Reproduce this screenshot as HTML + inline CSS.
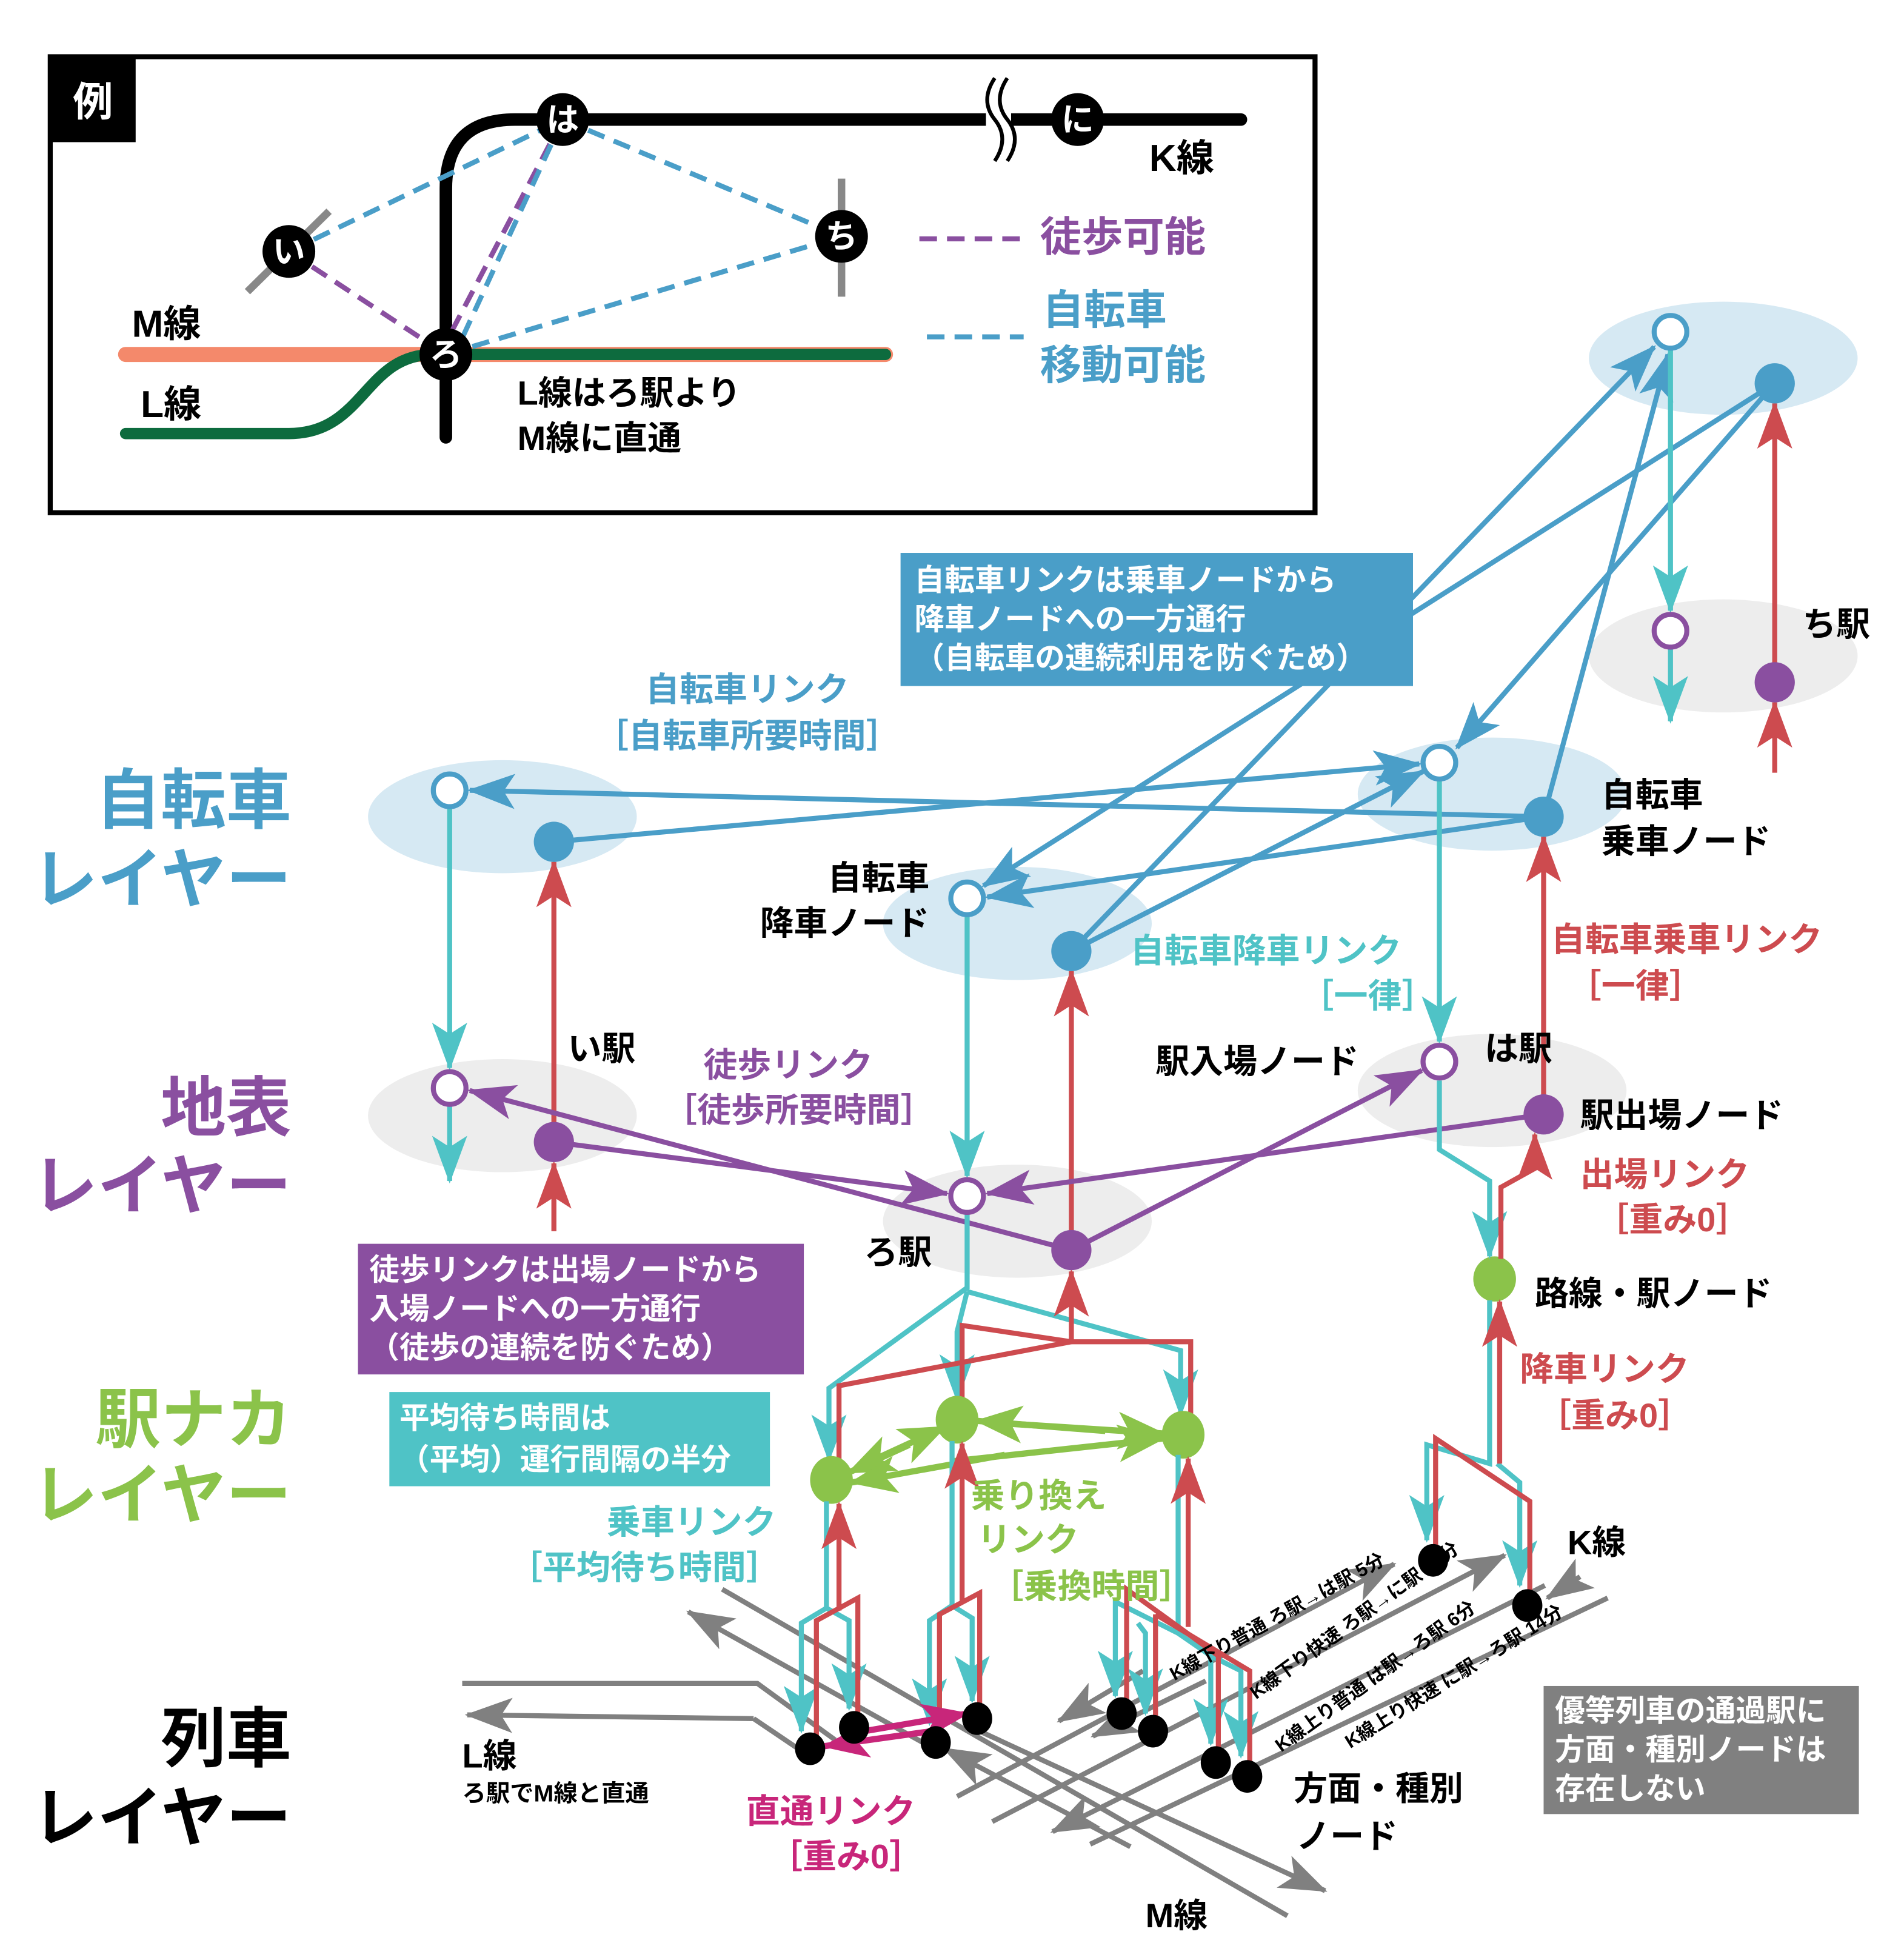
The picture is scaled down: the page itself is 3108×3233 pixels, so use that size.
<!DOCTYPE html>
<html><head><meta charset="utf-8">
<style>
html,body{margin:0;padding:0;background:#fff}
svg{display:block}
text{font-family:"Liberation Sans","Noto Sans CJK JP",sans-serif;font-weight:bold}
</style></head><body>
<svg width="3108" height="3233" viewBox="0 0 1500 1560" xmlns="http://www.w3.org/2000/svg">
<defs>
<marker id="ab" markerUnits="userSpaceOnUse" markerWidth="40" markerHeight="28" refX="36" refY="14" orient="auto"><path d="M0,0 L38,14 L0,28 L9,14z" fill="#4a9ec8"/></marker>
<marker id="at" markerUnits="userSpaceOnUse" markerWidth="40" markerHeight="28" refX="36" refY="14" orient="auto"><path d="M0,0 L38,14 L0,28 L9,14z" fill="#4fc3c6"/></marker>
<marker id="ar" markerUnits="userSpaceOnUse" markerWidth="40" markerHeight="28" refX="36" refY="14" orient="auto"><path d="M0,0 L38,14 L0,28 L9,14z" fill="#cd4b4f"/></marker>
<marker id="ap" markerUnits="userSpaceOnUse" markerWidth="40" markerHeight="28" refX="36" refY="14" orient="auto"><path d="M0,0 L38,14 L0,28 L9,14z" fill="#8a4fa0"/></marker>
<marker id="ag" markerUnits="userSpaceOnUse" markerWidth="40" markerHeight="30" refX="36" refY="15" orient="auto"><path d="M0,0 L38,15 L0,30 L9,15z" fill="#8bc34a"/></marker>
<marker id="agr" markerUnits="userSpaceOnUse" markerWidth="40" markerHeight="28" refX="36" refY="14" orient="auto"><path d="M0,0 L38,14 L0,28 L9,14z" fill="#808080"/></marker>
<marker id="am" markerUnits="userSpaceOnUse" markerWidth="40" markerHeight="28" refX="36" refY="14" orient="auto"><path d="M0,0 L38,14 L0,28 L9,14z" fill="#c8267a"/></marker>
</defs>

<rect x="40" y="45" width="1007" height="363" fill="#fff" stroke="#000" stroke-width="4"/>
<rect x="40" y="45" width="68" height="68" fill="#000"/>
<text x="74" y="92" font-size="32" fill="#fff" text-anchor="middle">例</text>
<line x1="197" y1="232" x2="262" y2="168" stroke="#888" stroke-width="6"/>
<line x1="670" y1="142" x2="670" y2="236" stroke="#888" stroke-width="6"/>
<line x1="100" y1="282" x2="705" y2="282" stroke="#f4896b" stroke-width="12" stroke-linecap="round"/>
<path d="M100,345 L230,345 C290,345 290,282 345,282 L705,282" fill="none" stroke="#0d6b3e" stroke-width="9" stroke-linecap="round"/>
<path d="M355,348 L355,150 Q355,95 410,95 L988,95" fill="none" stroke="#000" stroke-width="10" stroke-linecap="round"/>
<rect x="785" y="70" width="20" height="60" fill="#fff"/>
<path d="M792,62 q-12,18 0,33 q12,15 0,33 M802,62 q-12,18 0,33 q12,15 0,33" fill="none" stroke="#000" stroke-width="3"/>
<g stroke-width="4" stroke-dasharray="14,8" fill="none">
<line x1="230" y1="200" x2="355" y2="282" stroke="#8a4fa0"/>
<line x1="448" y1="95" x2="350" y2="282" stroke="#8a4fa0"/>
<line x1="230" y1="200" x2="448" y2="95" stroke="#4a9ec8"/>
<line x1="448" y1="95" x2="670" y2="188" stroke="#4a9ec8"/>
<line x1="355" y1="282" x2="670" y2="188" stroke="#4a9ec8"/>
<line x1="448" y1="95" x2="362" y2="282" stroke="#4a9ec8"/>
<line x1="732" y1="190" x2="812" y2="190" stroke="#8a4fa0"/>
<line x1="738" y1="268" x2="815" y2="268" stroke="#4a9ec8"/>
</g>
<g fill="#000"><circle cx="448" cy="95" r="21"/><circle cx="858" cy="95" r="21"/><circle cx="230" cy="200" r="21"/><circle cx="355" cy="282" r="21"/><circle cx="670" cy="188" r="21"/></g>
<g fill="#fff" font-size="26" text-anchor="middle"><text x="448" y="104">は</text><text x="858" y="104">に</text><text x="230" y="209">い</text><text x="355" y="291">ろ</text><text x="670" y="197">ち</text></g>
<g font-size="30" fill="#000"><text x="915" y="136">K線</text><text x="105" y="268">M線</text><text x="112" y="332">L線</text>
<text x="412" y="322" font-size="27">L線はろ駅より</text><text x="412" y="358" font-size="27">M線に直通</text></g>
<text x="828" y="200" font-size="33" fill="#8a4fa0">徒歩可能</text>
<text x="830" y="258" font-size="33" fill="#4a9ec8">自転車</text>
<text x="828" y="302" font-size="33" fill="#4a9ec8">移動可能</text>

<g font-size="52" text-anchor="end">
<text x="232" y="655" fill="#4a9ec8">自転車</text><text x="232" y="718" fill="#4a9ec8">レイヤー</text>
<text x="232" y="900" fill="#8a4fa0">地表</text><text x="232" y="962" fill="#8a4fa0">レイヤー</text>
<text x="232" y="1148" fill="#8bc34a">駅ナカ</text><text x="232" y="1208" fill="#8bc34a">レイヤー</text>
<text x="232" y="1402" fill="#000">列車</text><text x="232" y="1465" fill="#000">レイヤー</text>
</g>

<g fill="#d6e9f3"><ellipse cx="400" cy="650" rx="107" ry="45"/><ellipse cx="810" cy="735" rx="107" ry="45"/><ellipse cx="1188" cy="632" rx="107" ry="45"/><ellipse cx="1372" cy="285" rx="107" ry="45"/></g>
<g fill="#ededed"><ellipse cx="400" cy="888" rx="107" ry="45"/><ellipse cx="810" cy="972" rx="107" ry="45"/><ellipse cx="1188" cy="868" rx="107" ry="45"/><ellipse cx="1372" cy="522" rx="107" ry="45"/></g>

<g stroke="#808080" stroke-width="4" fill="none">
<path d="M368,1340 L603,1340 L665,1385"/>
<path d="M600,1368 L640,1395" />
<path d="M600,1368 L372,1365" marker-end="url(#agr)"/>
<line x1="575" y1="1265" x2="1025" y2="1525"/>
<line x1="740" y1="1390" x2="548" y2="1283" marker-end="url(#agr)"/>
<line x1="780" y1="1378" x2="1055" y2="1505" marker-end="url(#agr)"/>
<line x1="900" y1="1470" x2="752" y2="1392" marker-end="url(#agr)"/>
<line x1="762" y1="1430" x2="1110" y2="1245" marker-end="url(#agr)"/>
<line x1="790" y1="1450" x2="1198" y2="1238" marker-end="url(#agr)"/>
<line x1="1280" y1="1272" x2="868" y2="1468" />
<line x1="1230" y1="1262" x2="838" y2="1458" marker-end="url(#agr)"/>
<line x1="1258" y1="1255" x2="1232" y2="1272" marker-end="url(#agr)"/>
<line x1="910" y1="1330" x2="843" y2="1370" marker-end="url(#agr)"/>
<line x1="960" y1="1338" x2="870" y2="1382" marker-end="url(#agr)"/>
</g>

<g stroke="#4a9ec8" stroke-width="4" fill="none">
<line x1="441" y1="670" x2="1130" y2="608" marker-end="url(#ab)"/>
<line x1="1229" y1="650" x2="374" y2="629" marker-end="url(#ab)"/>
<line x1="853" y1="757" x2="1133" y2="614" marker-end="url(#ab)"/>
<line x1="1229" y1="650" x2="786" y2="714" marker-end="url(#ab)"/>
<line x1="853" y1="757" x2="1317" y2="276" marker-end="url(#ab)"/>
<line x1="1413" y1="305" x2="783" y2="705" marker-end="url(#ab)"/>
<line x1="1413" y1="305" x2="1160" y2="595" marker-end="url(#ab)"/>
<line x1="1229" y1="650" x2="1328" y2="282" marker-end="url(#ab)"/>
</g>
<g stroke="#4fc3c6" stroke-width="4" fill="none">
<line x1="358" y1="643" x2="358" y2="850" marker-end="url(#at)"/>
<line x1="358" y1="880" x2="358" y2="940" marker-end="url(#at)"/>
<line x1="1330" y1="278" x2="1330" y2="486" marker-end="url(#at)"/>
<line x1="1330" y1="516" x2="1330" y2="574" marker-end="url(#at)"/>
<line x1="770" y1="729" x2="770" y2="936" marker-end="url(#at)"/>
<line x1="1146" y1="621" x2="1146" y2="829" marker-end="url(#at)"/>
</g>
<g stroke="#cd4b4f" stroke-width="4" fill="none">
<line x1="441" y1="980" x2="441" y2="926" marker-end="url(#ar)"/>
<line x1="441" y1="895" x2="441" y2="686" marker-end="url(#ar)"/>
<line x1="853" y1="980" x2="853" y2="773" marker-end="url(#ar)"/>
<line x1="1229" y1="873" x2="1229" y2="666" marker-end="url(#ar)"/>
<line x1="1413" y1="528" x2="1413" y2="321" marker-end="url(#ar)"/>
<line x1="1413" y1="615" x2="1413" y2="559" marker-end="url(#ar)"/>
</g>
<g stroke="#8a4fa0" stroke-width="4" fill="none">
<line x1="441" y1="909" x2="754" y2="950" marker-end="url(#ap)"/>
<line x1="853" y1="995" x2="374" y2="868" marker-end="url(#ap)"/>
<line x1="853" y1="995" x2="1132" y2="852" marker-end="url(#ap)"/>
<line x1="1229" y1="887" x2="786" y2="950" marker-end="url(#ap)"/>
</g>

<g stroke="#4fc3c6" stroke-width="4" fill="none">
<path d="M770,966 L770,1025 L660,1105 L660,1162" marker-end="url(#at)"/>
<path d="M770,1028 L762,1060 L762,1114" marker-end="url(#at)"/>
<path d="M770,1028 L940,1075 L940,1126" marker-end="url(#at)"/>
</g>
<g stroke="#cd4b4f" stroke-width="4" fill="none">
<path d="M668,1168 L668,1103 L853,1068 L853,1012" marker-end="url(#ar)"/>
<path d="M766,1118 L766,1055 L853,1068 L948,1068 L948,1128"/>
</g>
<g stroke="#8bc34a" stroke-width="5" fill="none">
<line x1="700" y1="1160" x2="752" y2="1136" marker-end="url(#ag)"/>
<line x1="724" y1="1150" x2="676" y2="1172" marker-end="url(#ag)"/>
<line x1="800" y1="1133" x2="926" y2="1141" marker-end="url(#ag)"/>
<line x1="880" y1="1139" x2="778" y2="1131" marker-end="url(#ag)"/>
<line x1="760" y1="1163" x2="926" y2="1145" marker-end="url(#ag)"/>
<line x1="800" y1="1158" x2="678" y2="1180" marker-end="url(#ag)"/>
</g>
<g fill="#8bc34a"><ellipse cx="662" cy="1178" rx="17" ry="19"/><ellipse cx="762" cy="1130" rx="17" ry="19"/><ellipse cx="942" cy="1142" rx="17" ry="19"/><ellipse cx="1190" cy="1018" rx="17" ry="18"/></g>

<g stroke="#4fc3c6" stroke-width="4" fill="none">
<path d="M1146,860 L1146,915 L1186,940 L1186,1000" marker-end="url(#at)"/>
<path d="M1186,1035 L1186,1165 L1136,1150 L1136,1226" marker-end="url(#at)"/>
<path d="M1192,1165 L1210,1180 L1210,1262" marker-end="url(#at)"/>
</g>
<g stroke="#cd4b4f" stroke-width="4" fill="none">
<path d="M1195,1002 L1195,945 L1222,930 L1222,903" marker-end="url(#ar)"/>
<path d="M1143,1235 L1143,1145 L1218,1195 L1218,1270"/>
<path d="M1194,1165 L1194,1036" marker-end="url(#ar)"/>
</g>

<g stroke="#4fc3c6" stroke-width="4" fill="none">
<path d="M658,1195 L658,1280 L638,1292 L638,1378" marker-end="url(#at)"/>
<path d="M658,1280 L676,1290 L676,1360" marker-end="url(#at)"/>
<path d="M758,1147 L758,1278 L740,1290 L740,1372" marker-end="url(#at)"/>
<path d="M758,1278 L774,1288 L774,1354" marker-end="url(#at)"/>
<path d="M938,1158 L938,1300 L888,1275 L888,1350" marker-end="url(#at)"/>
<path d="M906,1292 L912,1300 L912,1364" marker-end="url(#at)"/>
<path d="M938,1300 L964,1318 L964,1388" marker-end="url(#at)"/>
<path d="M964,1318 L988,1330 L988,1398" marker-end="url(#at)"/>
</g>
<g stroke="#cd4b4f" stroke-width="4" fill="none">
<path d="M650,1388 L650,1290 L683,1272 L683,1370"/>
<line x1="668" y1="1282" x2="668" y2="1197" marker-end="url(#ar)"/>
<path d="M748,1385 L748,1285 L780,1268 L780,1364"/>
<line x1="766" y1="1275" x2="766" y2="1149" marker-end="url(#ar)"/>
<path d="M897,1362 L897,1265 L970,1318 L970,1400"/>
<path d="M920,1376 L920,1285 M995,1410 L995,1330 L920,1285"/>
<line x1="946" y1="1295" x2="946" y2="1161" marker-end="url(#ar)"/>
</g>
<g stroke="#c8267a" stroke-width="5" fill="none">
<line x1="688" y1="1378" x2="770" y2="1364" marker-end="url(#am)"/>
<line x1="742" y1="1378" x2="656" y2="1390" marker-end="url(#am)"/>
</g>
<g fill="#000">
<ellipse cx="645" cy="1392" rx="12" ry="13"/><ellipse cx="680" cy="1375" rx="12" ry="13"/><ellipse cx="745" cy="1387" rx="12" ry="13"/><ellipse cx="778" cy="1368" rx="12" ry="13"/>
<ellipse cx="893" cy="1364" rx="12" ry="13"/><ellipse cx="918" cy="1378" rx="12" ry="13"/><ellipse cx="968" cy="1403" rx="12" ry="13"/><ellipse cx="993" cy="1414" rx="12" ry="13"/>
<ellipse cx="1141" cy="1242" rx="12" ry="13"/><ellipse cx="1216" cy="1278" rx="12" ry="13"/>
</g>

<g stroke-width="4" fill="#fff" stroke="#4a9ec8"><circle cx="358" cy="629" r="13"/><circle cx="770" cy="715" r="13"/><circle cx="1146" cy="607" r="13"/><circle cx="1330" cy="264" r="13"/></g>
<g fill="#4a9ec8"><circle cx="441" cy="670" r="16"/><circle cx="853" cy="757" r="16"/><circle cx="1229" cy="650" r="16"/><circle cx="1413" cy="305" r="16"/></g>
<g stroke-width="4" fill="#fff" stroke="#8a4fa0"><circle cx="358" cy="866" r="13"/><circle cx="770" cy="952" r="13"/><circle cx="1146" cy="845" r="13"/><circle cx="1330" cy="502" r="13"/></g>
<g fill="#8a4fa0"><circle cx="441" cy="909" r="16"/><circle cx="853" cy="995" r="16"/><circle cx="1229" cy="887" r="16"/><circle cx="1413" cy="543" r="16"/></g>

<rect x="717" y="440" width="408" height="106" fill="#4a9ec8"/>
<g fill="#fff" font-size="24"><text x="728" y="470">自転車リンクは乗車ノードから</text><text x="728" y="501">降車ノードへの一方通行</text><text x="728" y="532">（自転車の連続利用を防ぐため）</text></g>
<rect x="285" y="990" width="355" height="104" fill="#8a4fa0"/>
<g fill="#fff" font-size="24"><text x="294" y="1019">徒歩リンクは出場ノードから</text><text x="294" y="1050">入場ノードへの一方通行</text><text x="294" y="1081">（徒歩の連続を防ぐため）</text></g>
<rect x="310" y="1108" width="303" height="75" fill="#4fc3c6"/>
<g fill="#fff" font-size="24"><text x="318" y="1137">平均待ち時間は</text><text x="318" y="1170">（平均）運行間隔の半分</text></g>
<rect x="1229" y="1342" width="251" height="102" fill="#808080"/>
<g fill="#fff" font-size="24"><text x="1238" y="1370">優等列車の通過駅に</text><text x="1238" y="1401">方面・種別ノードは</text><text x="1238" y="1432">存在しない</text></g>

<g font-size="27">
<text x="595" y="558" fill="#4a9ec8" text-anchor="middle">自転車リンク</text>
<text x="595" y="595" fill="#4a9ec8" text-anchor="middle">［自転車所要時間］</text>
<text x="1275" y="642" fill="#000">自転車</text><text x="1275" y="679" fill="#000">乗車ノード</text>
<text x="740" y="708" fill="#000" text-anchor="end">自転車</text><text x="740" y="744" fill="#000" text-anchor="end">降車ノード</text>
<text x="900" y="766" fill="#4fc3c6">自転車降車リンク</text><text x="1035" y="802" fill="#4fc3c6">［一律］</text>
<text x="1235" y="757" fill="#cd4b4f">自転車乗車リンク</text><text x="1248" y="794" fill="#cd4b4f">［一律］</text>
<text x="920" y="854" fill="#000">駅入場ノード</text>
<text x="1182" y="844" fill="#000">は駅</text>
<text x="452" y="844" fill="#000">い駅</text>
<text x="688" y="1006" fill="#000">ろ駅</text>
<text x="1435" y="506" fill="#000">ち駅</text>
<text x="560" y="857" fill="#8a4fa0">徒歩リンク</text><text x="528" y="893" fill="#8a4fa0">［徒歩所要時間］</text>
<text x="1258" y="897" fill="#000">駅出場ノード</text>
<text x="1258" y="944" fill="#cd4b4f">出場リンク</text><text x="1270" y="980" fill="#cd4b4f">［重み0］</text>
<text x="1222" y="1039" fill="#000">路線・駅ノード</text>
<text x="1210" y="1099" fill="#cd4b4f">降車リンク</text><text x="1224" y="1136" fill="#cd4b4f">［重み0］</text>
<text x="483" y="1221" fill="#4fc3c6">乗車リンク</text><text x="405" y="1257" fill="#4fc3c6">［平均待ち時間］</text>
<text x="773" y="1200" fill="#8bc34a">乗り換え</text><text x="778" y="1235" fill="#8bc34a">リンク</text><text x="788" y="1272" fill="#8bc34a">［乗換時間］</text>
<text x="1248" y="1237" fill="#000">K線</text>
<text x="594" y="1451" fill="#c8267a">直通リンク</text><text x="612" y="1487" fill="#c8267a">［重み0］</text>
<text x="1030" y="1433" fill="#000">方面・種別</text><text x="1032" y="1471" fill="#000">ノード</text>
<text x="912" y="1534" fill="#000">M線</text>
<text x="368" y="1407" fill="#000">L線</text>
<text x="368" y="1434" fill="#000" font-size="19">ろ駅でM線と直通</text>
</g>
<g font-size="15" fill="#000" font-weight="normal">
<text transform="translate(935,1338) rotate(-29)">K線下り普通 ろ駅→は駅 5分</text>
<text transform="translate(1000,1353) rotate(-36)">K線下り快速 ろ駅→に駅 15分</text>
<text transform="translate(1020,1395) rotate(-36)">K線上り普通 は駅→ろ駅 6分</text>
<text transform="translate(1075,1392) rotate(-32)">K線上り快速 に駅→ろ駅 14分</text>
</g>
</svg>
</body></html>
